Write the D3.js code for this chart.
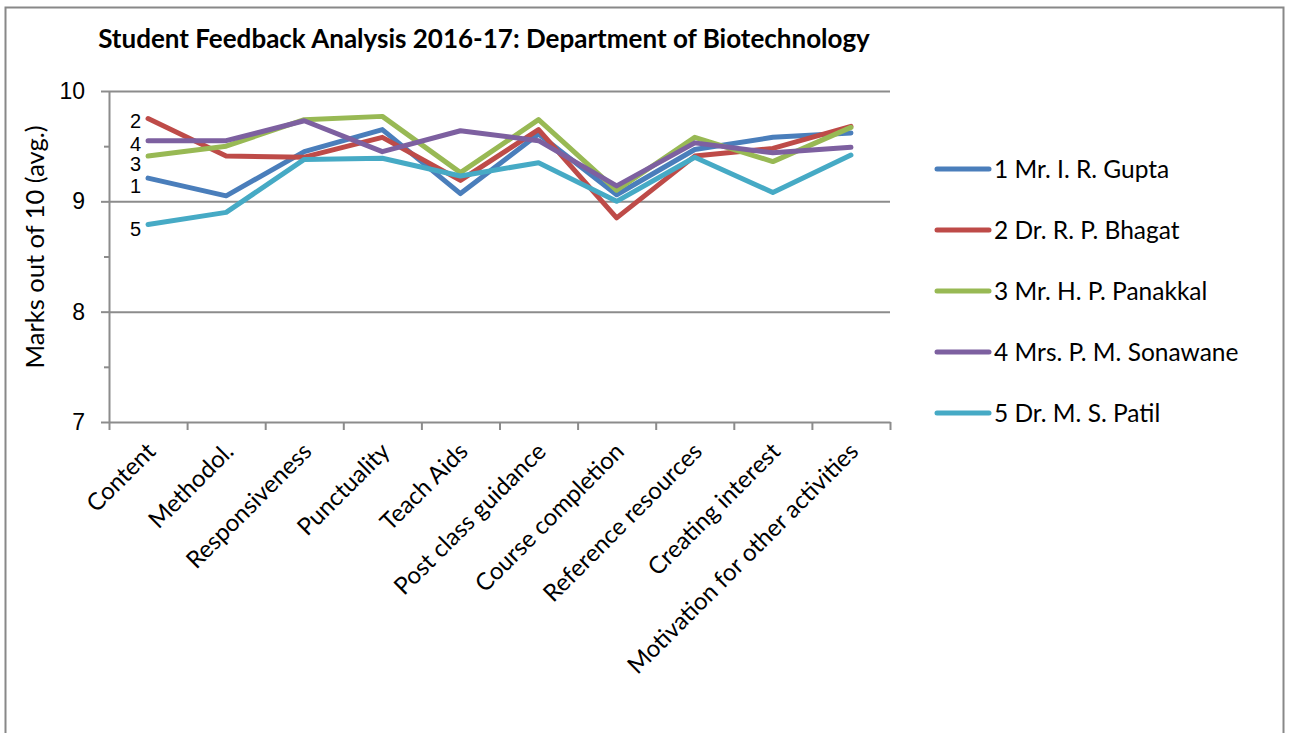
<!DOCTYPE html>
<html>
<head>
<meta charset="utf-8">
<script src="https://cdn.jsdelivr.net/npm/d3@7"></script>
<style>
  body { margin: 0; background: #fff; }
  svg { display: block; }
</style>
</head>
<body>
<div id="chart"></div>
<script>
// data
const categories = ["Content", "Methodol.", "Responsiveness", "Punctuality", "Teach Aids",
  "Post class guidance", "Course completion", "Reference resources", "Creating interest",
  "Motivation for other activities"];
const teachers = ["1 Mr. I. R. Gupta", "2 Dr. R. P. Bhagat", "3 Mr. H. P. Panakkal",
  "4 Mrs. P. M. Sonawane", "5 Dr. M. S. Patil"];
const seriesTags = ["1", "2", "3", "4", "5"];
const gupta    = [9.21, 9.05, 9.45, 9.65, 9.07, 9.61, 9.06, 9.47, 9.58, 9.62];
const bhagat   = [9.75, 9.41, 9.40, 9.58, 9.19, 9.65, 8.85, 9.41, 9.48, 9.68];
const panakkal = [9.41, 9.50, 9.74, 9.77, 9.26, 9.74, 9.10, 9.58, 9.36, 9.67];
const sonawane = [9.55, 9.55, 9.73, 9.45, 9.64, 9.55, 9.14, 9.53, 9.44, 9.49];
const patil    = [8.79, 8.90, 9.38, 9.39, 9.23, 9.35, 9.00, 9.40, 9.08, 9.42];
const yTicks = [7, 8, 9, 10];
const yMinorTicks = [7.5, 8.5, 9.5];

const allSeries = [gupta, bhagat, panakkal, sonawane, patil];
const colors = ["#4a7ebb", "#be4b48", "#98b954", "#7d60a0", "#46aac5"];
// small vertical nudges so the series tags don't collide (px)
const tagNudge = [8, 2, 8, 3, 4];

const width = 1292, height = 733;
const plot = {left: 109, right: 890, top: 91, bottom: 422};
const textFont = "Lato, 'Open Sans', sans-serif";
const numFont = "'Liberation Sans', Arial, sans-serif";
const gridGrey = "#8c8c8c";

const svg = d3.select("#chart").append("svg")
  .attr("width", width)
  .attr("height", height);

// outer frame
svg.append("rect")
  .attr("x", 5.5).attr("y", 7.5)
  .attr("width", 1278).attr("height", 740)
  .attr("fill", "#fff")
  .attr("stroke", "#888").attr("stroke-width", 2);

let x = d3.scalePoint()
  .domain(categories)
  .range([plot.left, plot.right])
  .padding(0.5);

let xEdge = d3.scaleLinear()
  .domain([0, categories.length])
  .range([plot.left, plot.right]);

let y = d3.scaleLinear()
  .domain([7, 10])
  .range([plot.bottom, plot.top]);

// gridlines
svg.append("g")
  .attr("transform", `translate(${plot.left},0)`)
  .call(d3.axisLeft(y).tickValues(yTicks.slice(1)).tickSize(-(plot.right - plot.left)).tickFormat(""))
  .call(g => g.select(".domain").remove())
  .call(g => g.selectAll("line").attr("stroke", gridGrey).attr("stroke-width", 2));

// minor ticks on y
svg.append("g")
  .attr("transform", `translate(${plot.left},0)`)
  .call(d3.axisLeft(y).tickValues(yMinorTicks).tickSize(5).tickFormat(""))
  .call(g => g.select(".domain").remove())
  .call(g => g.selectAll("line").attr("stroke", gridGrey).attr("stroke-width", 2));

// y axis
svg.append("g")
  .attr("transform", `translate(${plot.left},0)`)
  .call(d3.axisLeft(y).tickValues(yTicks).tickSize(8).tickSizeOuter(0).tickPadding(16).tickFormat(d3.format("d")))
  .call(g => g.select(".domain").attr("stroke", gridGrey).attr("stroke-width", 2))
  .call(g => g.selectAll("line").attr("stroke", gridGrey).attr("stroke-width", 2))
  .call(g => g.selectAll("text").attr("font-family", numFont).attr("font-size", 23).attr("fill", "#000"));

// x axis (ticks between categories)
svg.append("g")
  .attr("transform", `translate(0,${plot.bottom})`)
  .call(d3.axisBottom(xEdge).tickValues(d3.range(categories.length + 1)).tickSize(8).tickSizeOuter(0).tickFormat(""))
  .call(g => g.select(".domain").attr("stroke", gridGrey).attr("stroke-width", 2))
  .call(g => g.selectAll("line").attr("stroke", gridGrey).attr("stroke-width", 2));

// rotated category labels
svg.append("g").selectAll("text")
  .data(categories)
  .enter()
  .append("text")
    .attr("transform", d => `translate(${x(d) + 3},447) rotate(-45)`)
    .attr("text-anchor", "end")
    .attr("dy", "0.35em")
    .attr("font-family", textFont)
    .attr("font-size", 24)
    .attr("fill", "#000")
    .text(d => d);

// lines
let line = d3.line()
  .x((d, i) => x(categories[i]))
  .y(d => y(d));

svg.append("g").selectAll("path")
  .data(allSeries)
  .enter()
  .append("path")
    .attr("d", d => line(d))
    .attr("fill", "none")
    .attr("stroke", (d, i) => colors[i])
    .attr("stroke-width", 5)
    .attr("stroke-linejoin", "round")
    .attr("stroke-linecap", "round");

// series number labels left of first point
svg.append("g").selectAll("text")
  .data(allSeries)
  .enter()
  .append("text")
    .attr("x", x(categories[0]) - 7)
    .attr("y", (d, i) => y(d[0]) + tagNudge[i])
    .attr("dy", "0.35em")
    .attr("text-anchor", "end")
    .attr("font-family", numFont)
    .attr("font-size", 20)
    .attr("fill", "#000")
    .text((d, i) => seriesTags[i]);

// title
svg.append("text")
  .attr("x", 484)
  .attr("y", 48)
  .attr("text-anchor", "middle")
  .attr("font-family", textFont)
  .attr("font-weight", "bold")
  .attr("font-size", 26)
  .text("Student Feedback Analysis 2016-17: Department of Biotechnology");

// y axis title
svg.append("text")
  .attr("transform", "translate(35,247) rotate(-90)")
  .attr("text-anchor", "middle")
  .attr("dy", "0.35em")
  .attr("font-family", textFont)
  .attr("font-size", 25.5)
  .text("Marks out of 10 (avg.)");

// legend
let legendY = d3.scalePoint()
  .domain(teachers)
  .range([169, 413]);

let legend = svg.append("g").selectAll("g")
  .data(teachers)
  .enter()
  .append("g")
    .attr("transform", d => `translate(0,${legendY(d)})`);

legend.append("line")
  .attr("x1", 937).attr("x2", 989)
  .attr("stroke", (d, i) => colors[i])
  .attr("stroke-width", 5)
  .attr("stroke-linecap", "round");

legend.append("text")
  .attr("x", 994)
  .attr("dy", "0.35em")
  .attr("font-family", textFont)
  .attr("font-size", 24.5)
  .text(d => d);
</script>
</body>
</html>
